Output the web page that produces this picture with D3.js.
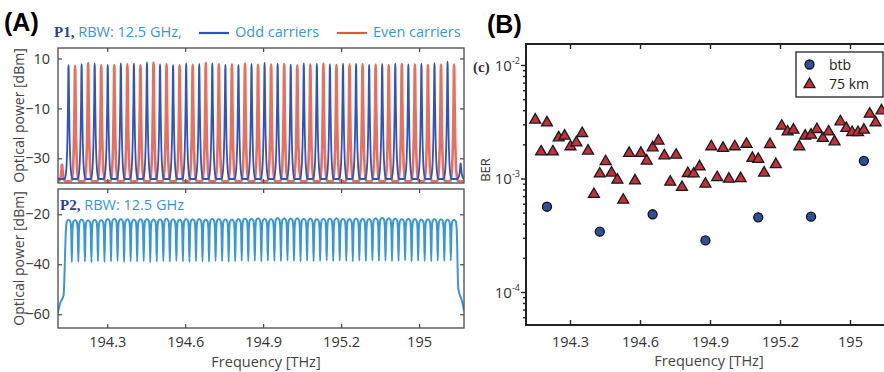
<!DOCTYPE html>
<html>
<head>
<meta charset="utf-8">
<script src="https://cdn.jsdelivr.net/npm/d3@7"></script>
<style>
  body { margin: 0; background: #fff; }
  svg { display: block; font-family: "Open Sans", sans-serif; }
</style>
</head>
<body>
<svg id="chart" width="884" height="372"></svg>
<script>
// ---------------- data ----------------

// frequency axis (both panels), labels as printed in the figure
const freqTicks = [194.3, 194.6, 194.9, 195.2, 195.5];
const freqTickLabels = ["194.3", "194.6", "194.9", "195.2", "195"];

// carrier grid: carrier 1 and spacing in THz
const gridStart = 194.151;
const gridStep = 0.02515;

// P1 spectrum, peak level [dBm] of odd carriers 1,3,...,61 and even carriers 0,2,...,60
const oddPeaks = [7.3, 7.7, 7.9, 7.4, 8.0, 7.9, 8.4, 7.6, 7.3, 8.0,
  7.7, 8.0, 7.4, 7.3, 7.7, 8.2, 7.8, 7.5, 8.0, 7.8,
  7.6, 7.9, 7.8, 7.4, 7.7, 7.9, 7.6, 7.8, 8.1, 8.7, -32.0];
const evenPeaks = [-32.5, 7.0, 8.2, 7.3, 7.4, 7.7, 7.3, 8.4, 7.7, 7.3, 7.5,
  8.3, 7.7, 7.6, 8.0, 7.5, 7.6, 7.8, 7.2, 7.6, 8.0,
  7.4, 7.6, 7.7, 7.5, 7.3, 7.8, 7.6, 7.4, 7.5, 7.6];
const oddFloor = -38.3;
const evenFloor = -39.2;

// P2 spectrum, peak level of carriers 1..60 and dips between them [dBm]
const p2Peaks = [-22.2, -22.3, -22.1, -22.4, -22.2, -22.3, -21.9, -21.8, -21.9, -22.0,
  -22.1, -22.0, -21.9, -22.1, -22.0, -21.8, -22.0, -22.1, -21.9, -22.0,
  -21.9, -22.1, -21.8, -21.9, -22.0, -22.1, -21.9, -21.7, -21.8, -21.6,
  -21.8, -21.9, -21.5, -21.6, -21.7, -21.6, -21.8, -21.7, -21.9, -21.8,
  -21.7, -21.6, -21.8, -21.9, -21.7, -21.8, -21.9, -21.6, -21.4, -21.6,
  -21.7, -21.9, -21.8, -21.9, -22.1, -22.0, -21.9, -22.0, -22.1, -22.2];
const p2Dips = [-39.1, -39.0, -38.9, -39.2, -38.8, -39.0, -38.9, -38.7, -39.1, -38.9,
  -39.0, -38.8, -39.2, -38.9, -38.8, -39.0, -38.7, -38.9, -39.1, -38.8,
  -38.9, -39.0, -38.7, -38.8, -39.0, -38.9, -38.6, -38.8, -38.7, -38.9,
  -38.6, -38.7, -38.8, -38.5, -38.7, -38.9, -38.6, -38.8, -38.7, -38.5,
  -38.8, -38.6, -38.7, -38.9, -38.6, -38.8, -38.5, -38.7, -38.6, -38.8,
  -38.7, -38.5, -38.9, -38.6, -38.7, -38.8, -38.6, -38.7, -38.5];
const p2LeftEdge = [[194.109, -59.6], [194.119, -55.5], [194.132, -52.3]];
const p2RightEdge = [[195.651, -49.7], [195.664, -54.3], [195.674, -58.7]];

// BER after 75 km, carriers 1..60
const ber75km = [3.28e-3, 1.72e-3, 3.10e-3, 1.72e-3, 2.29e-3, 2.37e-3, 1.91e-3, 2.07e-3, 2.50e-3, 1.75e-3,
  7.26e-4, 1.10e-3, 1.41e-3, 1.12e-3, 9.70e-4, 6.46e-4, 1.67e-3, 9.56e-4, 1.67e-3, 1.43e-3,
  1.87e-3, 2.14e-3, 1.59e-3, 9.31e-4, 1.61e-3, 8.37e-4, 1.11e-3, 1.10e-3, 1.27e-3, 8.94e-4,
  1.91e-3, 1.02e-3, 1.85e-3, 9.90e-4, 1.91e-3, 1.00e-3, 2.01e-3, 1.51e-3, 1.48e-3, 1.12e-3,
  2.00e-3, 1.33e-3, 2.90e-3, 2.58e-3, 2.68e-3, 1.91e-3, 2.37e-3, 2.42e-3, 2.71e-3, 2.26e-3,
  2.58e-3, 2.11e-3, 3.17e-3, 2.77e-3, 2.55e-3, 2.55e-3, 2.68e-3, 3.70e-3, 3.10e-3, 3.96e-3];

// back-to-back BER, measured on a subset of carriers
const btbCarriers = [3, 12, 21, 30, 39, 48, 57];
const berBtb = [5.64e-4, 3.40e-4, 4.84e-4, 2.85e-4, 4.55e-4, 4.61e-4, 1.43e-3];

// ---------------- drawing ----------------

const svg = d3.select("#chart");
const carrierFreq = (n) => gridStart + (n - 1) * gridStep;

const frameA = "#4a4a4a";
const blue = "#2c55c2";
const red = "#e4573f";
const lightBlue = "#3a96d8";

// Panel A scales
const xA = d3.scaleLinear().domain([194.1104, 195.673]).range([58, 464]);
const yP1 = d3.scaleLinear().domain([-39.9, 14.2]).range([183, 48]);
const yP2 = d3.scaleLinear().domain([-65.5, -9.9]).range([328, 189]);

const defs = svg.append("defs");
[["clipP1", yP1], ["clipP2", yP2]].forEach(([id, y]) => {
  defs.append("clipPath").attr("id", id).append("rect")
    .attr("x", xA.range()[0]).attr("y", y.range()[1])
    .attr("width", xA.range()[1] - xA.range()[0])
    .attr("height", y.range()[0] - y.range()[1]);
});

// P1 traces: each carrier drawn as a narrow peak over the floor
const peakShape = [[-0.6, 0], [-0.42, 0.04], [-0.28, 0.15], [-0.16, 0.38], [-0.08, 0.68],
  [-0.03, 0.96], [0, 1], [0.03, 0.96], [0.08, 0.68], [0.16, 0.38], [0.28, 0.15], [0.42, 0.04], [0.6, 0]];

function p1Points(peaks, firstCarrier, floor) {
  const pts = [[xA.domain()[0], floor]];
  peaks.forEach((p, i) => {
    const f = carrierFreq(firstCarrier + 2 * i);
    peakShape.forEach(([dx, r]) => pts.push([f + dx * gridStep, floor + (p - floor) * r]));
  });
  pts.push([xA.domain()[1], floor]);
  return pts;
}

const lineP1 = d3.line().x((d) => xA(d[0])).y((d) => yP1(d[1])).curve(d3.curveMonotoneX);

const gP1 = svg.append("g").attr("clip-path", "url(#clipP1)");
gP1.append("path")
  .attr("d", lineP1(p1Points(evenPeaks, 0, evenFloor)))
  .attr("fill", "none").attr("stroke", red).attr("stroke-width", 2.6)
  .attr("stroke-opacity", 0.85);
gP1.append("path")
  .attr("d", lineP1(p1Points(oddPeaks, 1, oddFloor)))
  .attr("fill", "none").attr("stroke", blue).attr("stroke-width", 1.8);

// P2 trace
const p2Pts = [...p2LeftEdge];
p2Peaks.forEach((p, i) => {
  const f = carrierFreq(i + 1);
  if (i > 0) p2Pts.push([f - 0.5 * gridStep, p2Dips[i - 1]]);
  [[-0.4, 4], [-0.28, 0.8], [0, 0], [0.28, 0.8], [0.4, 4]]
    .forEach(([dx, dd]) => p2Pts.push([f + dx * gridStep, p - dd]));
});
p2Pts.push(...p2RightEdge);

svg.append("g").attr("clip-path", "url(#clipP2)")
  .append("path")
  .attr("d", d3.line().x((d) => xA(d[0])).y((d) => yP2(d[1])).curve(d3.curveMonotoneX)(p2Pts))
  .attr("fill", "none").attr("stroke", lightBlue).attr("stroke-width", 2);

// Panel A frames and inward ticks
function boxAxes(y, yTicks, showX) {
  const [x0, x1] = xA.range();
  const [yb, yt] = y.range();
  const g = svg.append("g");

  g.append("g").attr("transform", `translate(0,${yb})`)
    .call(d3.axisBottom(xA).tickValues(freqTicks).tickSize(-4).tickPadding(9)
      .tickFormat((d, i) => (showX ? freqTickLabels[i] : "")));
  g.append("g").attr("transform", `translate(0,${yt})`)
    .call(d3.axisTop(xA).tickValues(freqTicks).tickSize(-4).tickFormat(""));
  g.append("g").attr("transform", `translate(${x0},0)`)
    .call(d3.axisLeft(y).tickValues(yTicks).tickSize(-4).tickPadding(8));
  g.append("g").attr("transform", `translate(${x1},0)`)
    .call(d3.axisRight(y).tickValues(yTicks).tickSize(-4).tickFormat(""));

  g.selectAll(".domain").remove();
  g.selectAll(".tick line").attr("stroke", frameA).attr("stroke-width", 1.2);
  g.selectAll(".tick text").attr("fill", "#333").style("font-size", "14.5px")
    .style("font-family", "Open Sans");

  g.append("rect").attr("x", x0).attr("y", yt).attr("width", x1 - x0).attr("height", yb - yt)
    .attr("fill", "none").attr("stroke", frameA).attr("stroke-width", 1.3);
}
boxAxes(yP1, [10, -10, -30], false);
boxAxes(yP2, [-20, -40, -60], true);

// Panel A texts
svg.append("text").attr("x", 4).attr("y", 31).text("(A)")
  .style("font-family", "Liberation Sans").style("font-weight", "bold").style("font-size", "25px");

const h1 = svg.append("text").attr("x", 54).attr("y", 37).style("font-size", "14.5px");
h1.append("tspan").text("P1,").attr("fill", "#2b3f94")
  .style("font-family", "Liberation Serif").style("font-weight", "bold").style("font-size", "15px");
h1.append("tspan").text(" RBW: 12.5 GHz,").attr("fill", lightBlue);

const legendA = [
  { color: blue, text: "Odd carriers", x: 199 },
  { color: red, text: "Even carriers", x: 337 },
];
legendA.forEach((d) => {
  svg.append("line").attr("x1", d.x).attr("x2", d.x + 30).attr("y1", 33).attr("y2", 33)
    .attr("stroke", d.color).attr("stroke-width", 2.2);
  svg.append("text").attr("x", d.x + 36).attr("y", 37).text(d.text)
    .attr("fill", lightBlue).style("font-size", "14.5px");
});

const h2 = svg.append("text").attr("x", 60).attr("y", 210).style("font-size", "14.5px");
h2.append("tspan").text("P2,").attr("fill", "#2b3f94")
  .style("font-family", "Liberation Serif").style("font-weight", "bold").style("font-size", "15px");
h2.append("tspan").text(" RBW: 12.5 GHz").attr("fill", lightBlue);

[[115.5], [258.5]].forEach(([cy]) => {
  svg.append("text").attr("transform", `translate(24,${cy}) rotate(-90)`)
    .attr("text-anchor", "middle").attr("fill", "#444").style("font-size", "14px")
    .text("Optical power [dBm]");
});
svg.append("text").attr("x", 266).attr("y", 367).attr("text-anchor", "middle")
  .attr("fill", "#444").style("font-size", "14.5px").text("Frequency [THz]");

// ---------------- Panel B ----------------
const xB = d3.scaleLinear().domain([194.1114, 195.6457]).range([526, 884]);
const yB = d3.scaleLog().domain([5.12e-5, 1.531e-2]).range([325, 44]);
const frameB = "#222";

const gB = svg.append("g");
gB.append("g").attr("transform", "translate(0,325)")
  .call(d3.axisBottom(xB).tickValues(freqTicks).tickSize(-5).tickPadding(12)
    .tickFormat((d, i) => freqTickLabels[i]));
gB.append("g").attr("transform", "translate(0,44)")
  .call(d3.axisTop(xB).tickValues(freqTicks).tickSize(-5).tickFormat(""));

const majorB = [1e-4, 1e-3, 1e-2];
const minorB = yB.ticks().filter((t) => !majorB.includes(t));
gB.append("g").attr("transform", "translate(526,0)")
  .call(d3.axisLeft(yB).tickValues(minorB).tickSize(3).tickFormat(""));
gB.append("g").attr("transform", "translate(526,0)")
  .call(d3.axisLeft(yB).tickValues(majorB).tickSize(5).tickFormat(""));

gB.selectAll(".domain").remove();
gB.selectAll(".tick line").attr("stroke", frameB).attr("stroke-width", 1.4);
gB.selectAll(".tick text").attr("fill", "#333").style("font-size", "14.5px")
  .style("font-family", "Open Sans");

// log labels 10^n
majorB.forEach((v) => {
  const t = gB.append("text").attr("x", 520).attr("y", yB(v) + 6)
    .attr("text-anchor", "end").attr("fill", "#333").style("font-size", "15px");
  t.append("tspan").text("10");
  t.append("tspan").text(String(Math.round(Math.log10(v))).replace("-", "-"))
    .attr("dy", -7).style("font-size", "9px");
});

gB.append("path")
  .attr("d", "M884,44H526V325H884")
  .attr("fill", "none").attr("stroke", frameB).attr("stroke-width", 2);

// markers
const triangle = d3.symbol().type(d3.symbolTriangle).size(52);
gB.selectAll(".tri")
  .data(ber75km)
  .enter()
  .append("path")
  .attr("class", "tri")
  .attr("transform", (d, i) => `translate(${xB(carrierFreq(i + 1))},${yB(d)})`)
  .attr("d", triangle)
  .attr("fill", "#c3303c").attr("stroke", "#1a1a1a").attr("stroke-width", 1.3);

gB.selectAll(".btb")
  .data(berBtb)
  .enter()
  .append("circle")
  .attr("class", "btb")
  .attr("cx", (d, i) => xB(carrierFreq(btbCarriers[i])))
  .attr("cy", (d) => yB(d))
  .attr("r", 4.5)
  .attr("fill", "#2e4f9c").attr("stroke", "#111").attr("stroke-width", 1.3);

// legend
const legB = gB.append("g");
legB.append("rect").attr("x", 796).attr("y", 52).attr("width", 87).attr("height", 45)
  .attr("fill", "#fff").attr("stroke", frameB).attr("stroke-width", 1.3);
legB.append("circle").attr("cx", 809.5).attr("cy", 64.5).attr("r", 4.5)
  .attr("fill", "#2e4f9c").attr("stroke", "#111").attr("stroke-width", 1.3);
legB.append("path").attr("transform", "translate(809.5,84.5)").attr("d", triangle)
  .attr("fill", "#c3303c").attr("stroke", "#1a1a1a").attr("stroke-width", 1.3);
[["btb", 70], ["75 km", 89]].forEach(([txt, y]) => {
  legB.append("text").attr("x", 829).attr("y", y).text(txt)
    .attr("fill", "#222").style("font-size", "14px");
});

// panel B texts
svg.append("text").attr("x", 487).attr("y", 33).text("(B)")
  .style("font-family", "Liberation Sans").style("font-weight", "bold").style("font-size", "25px");
svg.append("text").attr("x", 473).attr("y", 72).text("(c)")
  .attr("fill", "#333").style("font-family", "Liberation Serif").style("font-weight", "bold")
  .style("font-size", "15px");
svg.append("text").attr("transform", "translate(490,170) rotate(-90)")
  .attr("text-anchor", "middle").attr("fill", "#333").style("font-size", "13px").text("BER");
svg.append("text").attr("x", 709).attr("y", 366).attr("text-anchor", "middle")
  .attr("fill", "#444").style("font-size", "14.5px").text("Frequency [THz]");
</script>
</body>
</html>
